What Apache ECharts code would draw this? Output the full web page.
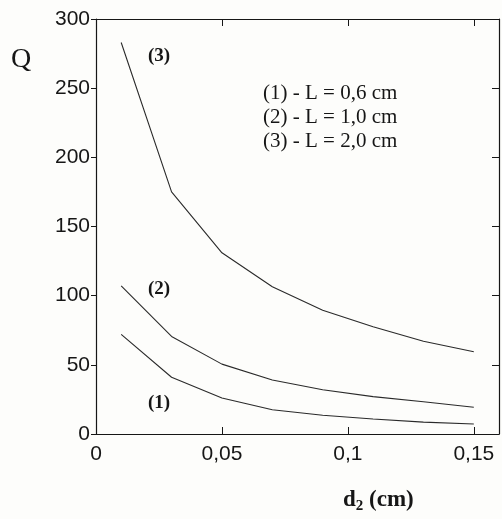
<!DOCTYPE html>
<html>
<head>
<meta charset="utf-8">
<script src="https://cdn.jsdelivr.net/npm/echarts@6/dist/echarts.min.js"></script>
<style>
  html, body { margin: 0; padding: 0; background: #fdfdfb; }
  #chart { width: 502px; height: 519px; }
</style>
</head>
<body>
<div id="chart"></div>
<script>
"use strict";

// d2 (cm)
const d2 = [0.01, 0.03, 0.05, 0.07, 0.09, 0.11, 0.13, 0.15];
// Q for each L
const qL06 = [72, 41, 26, 17.5, 13.5, 10.8, 8.6, 7.2];
const qL10 = [107, 70.5, 50.5, 39, 32, 27, 23.3, 19.3];
const qL20 = [283, 175, 131, 106.5, 89.5, 77.5, 67, 59.5];
const legendLines = ["(1) - L = 0,6 cm", "(2) - L = 1,0 cm", "(3) - L = 2,0 cm"];

const serif = "Liberation Serif, Times New Roman, serif";
const sans = "Liberation Sans, Arial, sans-serif";
const ink = "#161616";

const pairs = (ys) => d2.map((x, i) => [x, ys[i]]);
const comma = (v) => String(+v.toFixed(2)).replace(".", ",");

const chart = echarts.init(document.getElementById("chart"));

const lineSeries = [qL06, qL10, qL20].map((ys, i) => ({
  name: legendLines[i],
  type: "line",
  data: pairs(ys),
  showSymbol: false,
  silent: true,
  lineStyle: { color: "#2a2a2a", width: 1.1 },
}));

chart.setOption({
  backgroundColor: "#fdfdfb",
  animation: false,
  grid: { left: 96, top: 19, width: 408.5, height: 415 },
  xAxis: [
    {
      type: "value", min: 0, max: 0.16, interval: 0.05,
      axisLine: { lineStyle: { color: ink, width: 1.2 } },
      axisTick: { inside: true, length: 7, lineStyle: { color: ink } },
      splitLine: { show: false },
      axisLabel: {
        margin: 10, color: ink, fontFamily: sans, fontSize: 21,
        formatter: (v) => (v > 0.155 ? "" : comma(v)),
      },
    },
    {
      type: "value", position: "top", min: 0, max: 0.16, interval: 0.05,
      axisLine: { onZero: false, lineStyle: { color: ink, width: 1.2 } },
      axisTick: { inside: true, length: 7, lineStyle: { color: ink } },
      axisLabel: { show: false },
      splitLine: { show: false },
    },
  ],
  yAxis: [
    {
      type: "value", min: 0, max: 300, interval: 50,
      axisLine: { show: true, lineStyle: { color: ink, width: 1.2 } },
      axisTick: { show: true, length: 5, lineStyle: { color: ink } },
      splitLine: { show: false },
      axisLabel: { margin: 6, color: ink, fontFamily: sans, fontSize: 21 },
    },
    {
      type: "value", position: "right", min: 0, max: 300, interval: 50,
      axisLine: { show: true, onZero: false, lineStyle: { color: ink, width: 1.2 } },
      axisTick: { show: true, inside: true, length: 7, lineStyle: { color: ink } },
      axisLabel: { show: false },
      splitLine: { show: false },
    },
  ],
  series: lineSeries,
  graphic: [
    { type: "text", left: 11, top: 46, style: { text: "Q", font: "28px " + serif, fill: ink } },
    { type: "text", left: 148, top: 47, style: { text: "(3)", font: "bold 19px " + serif, fill: ink } },
    { type: "text", left: 148, top: 280, style: { text: "(2)", font: "bold 19px " + serif, fill: ink } },
    { type: "text", left: 148, top: 394, style: { text: "(1)", font: "bold 19px " + serif, fill: ink } },
    {
      type: "text", left: 263, top: 81,
      style: { text: legendLines.join("\n"), font: "21px " + serif, lineHeight: 24, fill: ink },
    },
    {
      type: "text", left: 343, top: 489,
      style: {
        text: "{m|d}{s|2}{m| (cm)}",
        fill: ink,
        rich: {
          m: { font: "bold 23px " + serif, fill: ink },
          s: { font: "bold 15px " + serif, fill: ink, padding: [11, 0, 0, 0] },
        },
      },
    },
  ],
});
</script>
</body>
</html>
